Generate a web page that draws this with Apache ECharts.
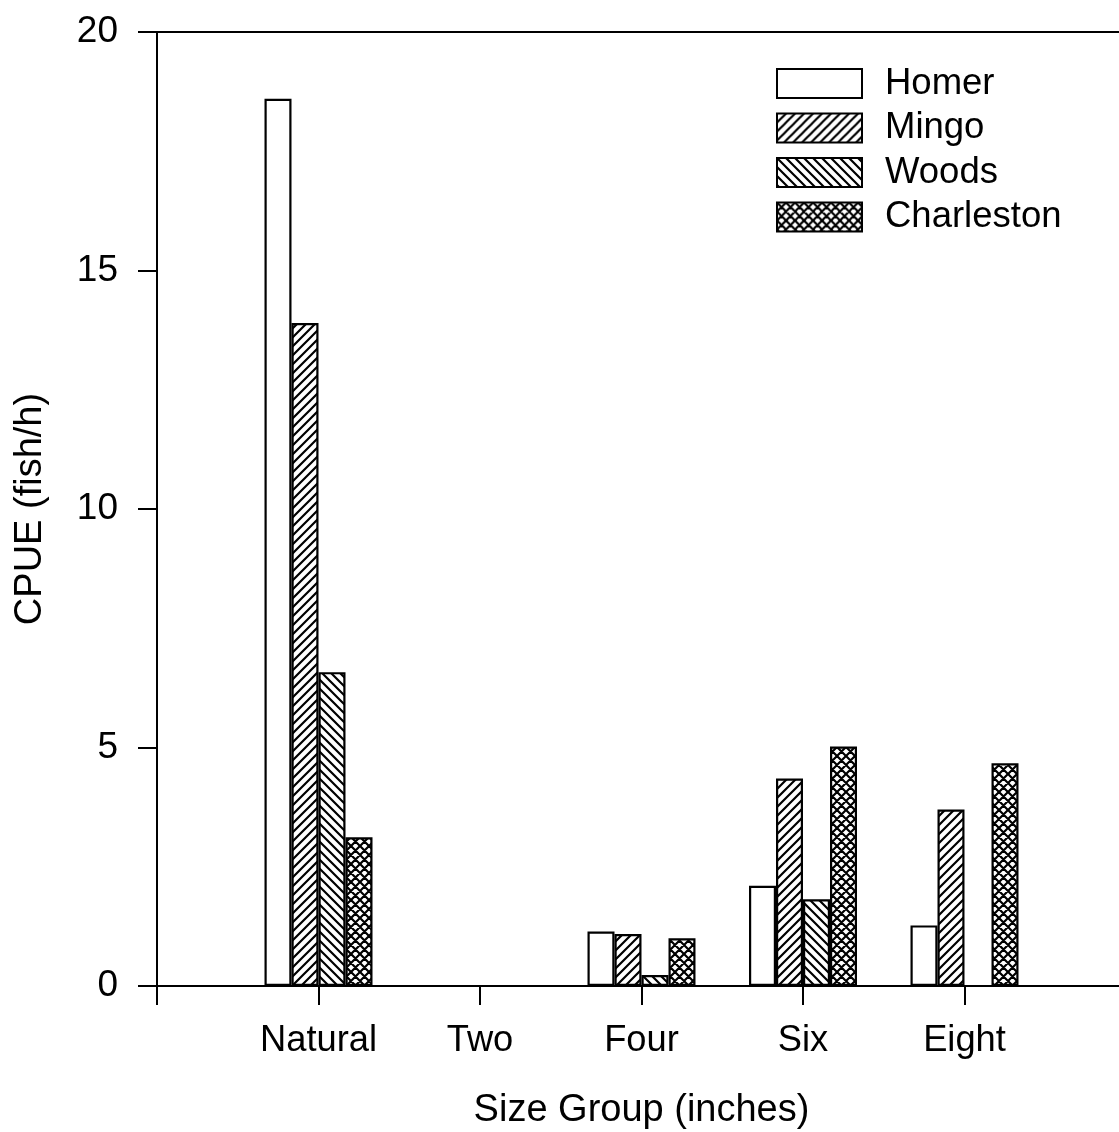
<!DOCTYPE html>
<html>
<head>
<meta charset="utf-8">
<script src="https://cdn.jsdelivr.net/npm/echarts@6/dist/echarts.min.js"></script>
<style>
  html, body { margin: 0; padding: 0; background: #fff; }
  #chart { width: 1119px; height: 1132px; }
</style>
</head>
<body>
<div id="chart"></div>
<script>
// Size groups on the x axis; blank entries pad both ends of the axis
const categories = ['', 'Natural', 'Two', 'Four', 'Six', 'Eight', ''];
const seriesNames = ['Homer', 'Mingo', 'Woods', 'Charleston'];

// CPUE (fish/h) per site
const homer      = [null, 18.6, 0, 1.14, 2.10, 1.27, null];
const mingo      = [null, 13.9, 0, 1.09, 4.35, 3.70, null];
const woods      = [null, 6.58, 0, 0.23, 1.82, 0,    null];
const charleston = [null, 3.12, 0, 1.00, 5.02, 4.67, null];

const yTicks = { min: 0, max: 20, interval: 5 };

const FONT = '"Liberation Sans", Arial, sans-serif';

// Hatch fill tiles drawn on small canvases
function hatch(dirs) {
  const s = 18, step = 9;
  const c = document.createElement('canvas');
  c.width = s; c.height = s;
  const g = c.getContext('2d');
  g.fillStyle = '#fff';
  g.fillRect(0, 0, s, s);
  g.strokeStyle = '#000';
  g.lineWidth = 2.2;
  g.beginPath();
  if (dirs.indexOf('/') >= 0) {
    for (let k = -1; k <= 5; k++) {
      const cc = k * step;
      g.moveTo(cc + 3, -3);
      g.lineTo(cc - s - 3, s + 3);
    }
  }
  if (dirs.indexOf('\\') >= 0) {
    for (let k = -3; k <= 3; k++) {
      const cc = k * step;
      g.moveTo(cc - 3, -3);
      g.lineTo(cc + s + 3, s + 3);
    }
  }
  g.stroke();
  return { image: c, repeat: 'repeat' };
}

const fills = ['#ffffff', hatch('/'), hatch('\\'), hatch('/\\')];
const dataSets = [homer, mingo, woods, charleston];

const chart = echarts.init(document.getElementById('chart'), null, { renderer: 'canvas' });

chart.setOption({
  animation: false,
  backgroundColor: '#ffffff',
  grid: { left: 157, top: 32, width: 969, height: 954, containLabel: false, outerBoundsMode: 'none' },
  legend: {
    left: 771,
    top: 60,
    orient: 'vertical',
    itemWidth: 85,
    itemHeight: 29,
    itemGap: 7.5,
    icon: 'rect',
    selectedMode: false,
    data: seriesNames,
    textStyle: { fontFamily: FONT, fontSize: 36.5, color: '#000', padding: [0, 0, 0, 18] }
  },
  xAxis: [{
    type: 'category',
    data: categories,
    boundaryGap: false,
    name: 'Size Group (inches)',
    nameLocation: 'middle',
    nameGap: 106,
    nameTextStyle: { fontFamily: FONT, fontSize: 38, color: '#000' },
    axisLine: { lineStyle: { color: '#000', width: 2 } },
    axisTick: { show: true, length: 19, interval: 0, lineStyle: { color: '#000', width: 2 } },
    axisLabel: { interval: 0, margin: 37, fontFamily: FONT, fontSize: 36.3, color: '#000' },
    splitLine: { show: false }
  }, {
    type: 'category',
    position: 'top',
    data: categories,
    boundaryGap: false,
    axisLine: { lineStyle: { color: '#000', width: 2 } },
    axisTick: { show: false },
    axisLabel: { show: false },
    splitLine: { show: false }
  }],
  yAxis: {
    type: 'value',
    min: yTicks.min,
    max: yTicks.max,
    interval: yTicks.interval,
    name: 'CPUE (fish/h)',
    nameLocation: 'middle',
    nameRotate: 90,
    nameGap: 107,
    nameTextStyle: { fontFamily: FONT, fontSize: 38, color: '#000' },
    axisLine: { show: true, lineStyle: { color: '#000', width: 2 } },
    axisTick: { show: true, length: 19, lineStyle: { color: '#000', width: 2 } },
    axisLabel: { margin: 39, fontFamily: FONT, fontSize: 37, color: '#000' },
    splitLine: { show: false }
  },
  series: seriesNames.map((name, i) => ({
    name: name,
    type: 'bar',
    xAxisIndex: 0,
    data: dataSets[i],
    barWidth: 27,
    barGap: '0%',
    itemStyle: { color: fills[i], borderColor: '#000', borderWidth: 2.2 }
  }))
});
</script>
</body>
</html>
